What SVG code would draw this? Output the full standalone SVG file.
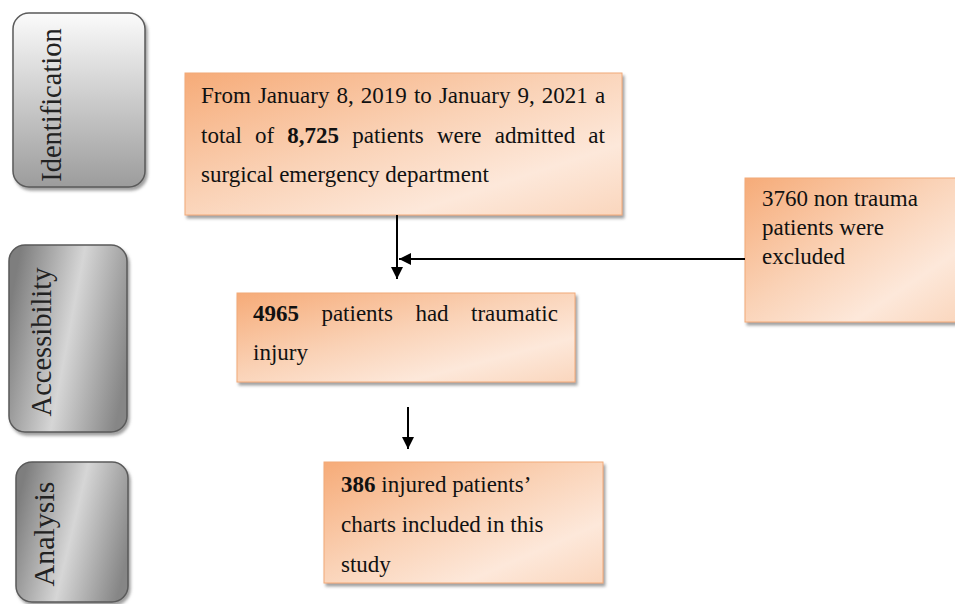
<svg xmlns="http://www.w3.org/2000/svg" width="955" height="604" viewBox="0 0 955 604">
<defs>
<linearGradient id="gOr" x1="0" y1="0" x2="1" y2="1">
<stop offset="0" stop-color="#f6ab78"/>
<stop offset="0.45" stop-color="#fad2b6"/>
<stop offset="0.75" stop-color="#fde8da"/>
<stop offset="1" stop-color="#fad6bd"/>
</linearGradient>
<linearGradient id="gId" x1="0" y1="0" x2="0" y2="1">
<stop offset="0" stop-color="#fbfbfb"/>
<stop offset="1" stop-color="#9c9c9c"/>
</linearGradient>
<linearGradient id="gGr" x1="0" y1="0.35" x2="1" y2="0.65">
<stop offset="0" stop-color="#7e7e7e"/>
<stop offset="0.5" stop-color="#d6d6d6"/>
<stop offset="1" stop-color="#868686"/>
</linearGradient>
<filter id="sh" x="-10%" y="-10%" width="125%" height="125%">
<feDropShadow dx="2" dy="3" stdDeviation="1.5" flood-color="#777" flood-opacity="0.7"/>
</filter>
<marker id="ah" viewBox="0 0 12 12" refX="12" refY="6" markerWidth="12" markerHeight="12" markerUnits="userSpaceOnUse" orient="auto">
<path d="M0,0 L12,6 L0,12 Z" fill="#000"/>
</marker>
</defs>
<style>
.side{stroke:#5a5a5a;stroke-width:1.5;filter:url(#sh)}
.box{fill:url(#gOr);stroke:#f2aa78;stroke-width:1;filter:url(#sh)}
.t{font-family:"Liberation Serif","Times New Roman",serif;font-size:23px;fill:#111}
.st{font-family:"Liberation Serif","Times New Roman",serif;font-size:28.5px;fill:#222}
.b{font-weight:bold}
.con{stroke:#000;stroke-width:2;fill:none}
</style>

<g id="identification">
<rect class="side" x="13" y="13" width="132" height="174" rx="16" fill="url(#gId)"/>
<text class="st" transform="translate(61,105) rotate(-90)" text-anchor="middle">Identification</text>
</g>
<g id="accessibility">
<rect class="side" x="9" y="245" width="118" height="187" rx="16" fill="url(#gGr)"/>
<text class="st" transform="translate(51,342) rotate(-90)" text-anchor="middle">Accessibility</text>
</g>
<g id="analysis">
<rect class="side" x="16" y="462" width="112" height="140" rx="16" fill="url(#gGr)"/>
<text class="st" transform="translate(54,534) rotate(-90)" text-anchor="middle" style="font-size:30px">Analysis</text>
</g>

<g id="box-admitted">
<rect class="box" x="185" y="73" width="437" height="142"/>
<text class="t" y="103"><tspan x="201">From</tspan><tspan x="257.9">January</tspan><tspan x="336.5">8,</tspan><tspan x="360.8">2019</tspan><tspan x="413.9">to</tspan><tspan x="438.9">January</tspan><tspan x="517.5">9,</tspan><tspan x="541.8">2021</tspan><tspan x="594.9">a</tspan></text>
<text class="t" y="143"><tspan x="201">total</tspan><tspan x="255">of</tspan><tspan x="287.3" class="b">8,725</tspan><tspan x="352.2">patients</tspan><tspan x="436.9">were</tspan><tspan x="494.7">admitted</tspan><tspan x="588.3">at</tspan></text>
<text class="t" x="201" y="182">surgical emergency department</text>
</g>

<g id="box-traumatic">
<rect class="box" x="237" y="293" width="338" height="89"/>
<text class="t" y="321"><tspan x="253" class="b">4965</tspan><tspan x="321.4">patients</tspan><tspan x="415.4">had</tspan><tspan x="471">traumatic</tspan></text>
<text class="t" x="253" y="360">injury</text>
</g>

<g id="box-excluded">
<rect class="box" x="745" y="178" width="215" height="144"/>
<text class="t" x="762" y="206">3760 non trauma</text>
<text class="t" x="762" y="235">patients were</text>
<text class="t" x="762" y="264">excluded</text>
</g>

<g id="box-included">
<rect class="box" x="324" y="462" width="279" height="121"/>
<text class="t" x="341" y="492"><tspan class="b">386</tspan> injured patients’</text>
<text class="t" x="341" y="532">charts included in this</text>
<text class="t" x="341" y="572">study</text>
</g>

<g id="connectors">
<line class="con" x1="397" y1="215" x2="397" y2="279" marker-end="url(#ah)"/>
<line class="con" x1="745" y1="259" x2="399" y2="259" marker-end="url(#ah)"/>
<line class="con" x1="408" y1="407" x2="408" y2="449" marker-end="url(#ah)"/>
</g>
</svg>
